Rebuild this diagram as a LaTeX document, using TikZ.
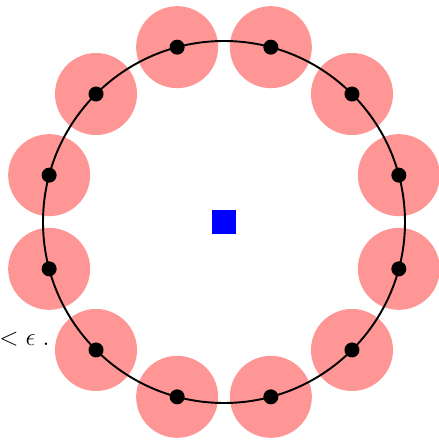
\documentclass[tikz,border=0pt]{standalone}
\usepackage{amsmath,amssymb}
\usetikzlibrary{positioning}
\definecolor{BallPink}{RGB}{255,150,150}
\definecolor{CenterBlue}{RGB}{0,0,255}
\tikzset{
  pt/.style={circle,fill=black,inner sep=0pt,minimum size=0.3cm},
  ctr/.style={fill=CenterBlue,inner sep=0pt,minimum size=0.48cm}
}

\begin{document}
\begin{tikzpicture}[x=0.02cm,y=0.02cm]
  \useasboundingbox (-224,-218) rectangle (215,222);
  % epsilon-balls round the sample points
  \foreach \k in {0,...,11}{\fill[BallPink] (15+30*\k:181) circle (41);}
  \draw[line width=1.1pt] (0,0) circle (181);
  \foreach \k in {0,...,11}{\node[pt] (p\k) at (15+30*\k:181) {};}
  \node[ctr] (c) at (0,0) {};
  \node[anchor=base west,inner sep=0pt,font=\Large] (eps) at (-225,-123) {$<\epsilon\;.$};
\end{tikzpicture}
\end{document}
